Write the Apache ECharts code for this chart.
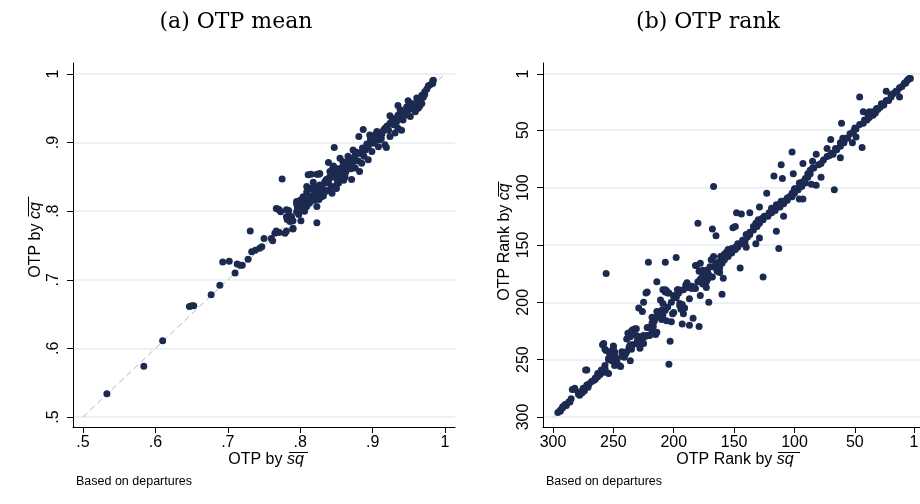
<!DOCTYPE html>
<html>
<head>
<meta charset="utf-8">
<script src="https://cdn.jsdelivr.net/npm/echarts@6/dist/echarts.min.js"></script>
<style>
html, body { margin: 0; padding: 0; background: #fff; }
#chart { width: 920px; height: 504px; }
</style>
</head>
<body>
<div id="chart"></div>
<script>
// (a) OTP mean: [OTP by sq, OTP by cq]
var meanPoints = [
  [0.533,0.534],[0.584,0.574],[0.610,0.611],[0.647,0.661],[0.650,0.662],[0.653,0.662],[0.677,0.678],[0.689,0.692],
  [0.693,0.726],[0.702,0.727],[0.710,0.710],[0.713,0.723],[0.717,0.721],[0.720,0.721],[0.728,0.730],[0.731,0.771],
  [0.733,0.741],[0.738,0.743],[0.744,0.746],[0.747,0.748],[0.750,0.760],[0.760,0.760],[0.762,0.757],[0.765,0.768],
  [0.767,0.771],[0.771,0.769],[0.767,0.804],[0.769,0.803],[0.773,0.799],[0.775,0.847],[0.781,0.771],[0.790,0.774],
  [0.779,0.768],[0.782,0.788],[0.784,0.801],[0.785,0.794],[0.786,0.785],[0.788,0.792],[0.790,0.786],[0.790,0.775],
  [0.781,0.792],[0.771,0.802],[0.781,0.802],[0.795,0.799],[0.795,0.811],[0.795,0.814],[0.800,0.816],[0.800,0.804],
  [0.801,0.786],[0.799,0.802],[0.802,0.807],[0.804,0.814],[0.804,0.819],[0.804,0.821],[0.807,0.814],[0.809,0.828],
  [0.809,0.836],[0.809,0.807],[0.811,0.853],[0.813,0.821],[0.814,0.833],[0.815,0.854],[0.816,0.819],[0.816,0.833],
  [0.818,0.842],[0.818,0.834],[0.820,0.836],[0.823,0.826],[0.823,0.831],[0.823,0.854],[0.823,0.807],[0.823,0.783],
  [0.825,0.826],[0.826,0.854],[0.827,0.824],[0.827,0.838],[0.827,0.855],[0.829,0.821],[0.832,0.831],[0.834,0.841],
  [0.834,0.843],[0.836,0.829],[0.839,0.845],[0.839,0.848],[0.839,0.841],[0.839,0.871],[0.843,0.836],[0.845,0.863],
  [0.846,0.850],[0.846,0.866],[0.847,0.893],[0.850,0.838],[0.850,0.833],[0.853,0.853],[0.853,0.841],[0.855,0.855],
  [0.855,0.877],[0.857,0.848],[0.859,0.872],[0.860,0.845],[0.860,0.858],[0.862,0.850],[0.864,0.867],[0.866,0.865],
  [0.866,0.880],[0.869,0.872],[0.871,0.877],[0.871,0.846],[0.873,0.872],[0.873,0.889],[0.876,0.882],[0.876,0.863],
  [0.881,0.909],[0.882,0.858],[0.883,0.884],[0.885,0.870],[0.887,0.919],[0.890,0.889],[0.894,0.894],[0.894,0.875],
  [0.896,0.911],[0.899,0.901],[0.899,0.887],[0.901,0.899],[0.906,0.909],[0.906,0.916],[0.908,0.894],[0.910,0.904],
  [0.913,0.913],[0.915,0.918],[0.917,0.921],[0.917,0.897],[0.919,0.893],[0.924,0.928],[0.924,0.909],[0.924,0.939],
  [0.931,0.935],[0.931,0.914],[0.935,0.940],[0.935,0.954],[0.935,0.921],[0.938,0.948],[0.940,0.918],[0.942,0.945],
  [0.942,0.933],[0.947,0.952],[0.949,0.961],[0.952,0.938],[0.954,0.957],[0.959,0.945],[0.959,0.955],[0.961,0.965],
  [0.963,0.950],[0.965,0.953],[0.968,0.969],[0.968,0.957],[0.972,0.974],[0.972,0.970],[0.977,0.983],[0.979,0.984],
  [0.983,0.986],[0.983,0.990],[0.984,0.991],
  [0.812,0.818],[0.818,0.824],[0.830,0.836],[0.836,0.846],[0.842,0.852],[0.848,0.856],[0.852,0.862],[0.858,0.864],
  [0.862,0.870],[0.868,0.866],[0.875,0.878],[0.878,0.886],[0.880,0.873],[0.886,0.892],[0.888,0.880],[0.892,0.898],
  [0.897,0.905],[0.903,0.902],[0.904,0.912],[0.909,0.914],[0.912,0.906],[0.920,0.924],[0.922,0.918],[0.927,0.932],
  [0.929,0.926],[0.933,0.930],[0.937,0.935],[0.944,0.940],[0.946,0.946],[0.950,0.948],[0.956,0.952],[0.962,0.960],
  [0.966,0.962],[0.970,0.966],[0.975,0.978],[0.796,0.806],[0.798,0.795],[0.806,0.800],[0.813,0.812],[0.819,0.816],
  [0.826,0.817],[0.832,0.822],[0.838,0.830],[0.844,0.826],[0.841,0.858],[0.851,0.846],[0.856,0.860],[0.863,0.857],
  [0.867,0.876],[0.870,0.862]
];

// (b) OTP rank: [rank by sq, rank by cq]
var rankPoints = [
  [46,21],[24,16],[13,21],[43,34],[38,34],[61,44],[60,57],[49,56],[44,65],[52,61],[70,58],[73,66],[62,74],[102,69],
  [82,71],[85,77],[93,79],[111,80],[117,90],[110,92],[101,88],[78,91],[86,97],[82,98],[67,102],[167,99],[93,110],
  [96,110],[123,105],[109,125],[115,138],[113,153],[126,178],[129,144],[129,117],[137,122],[148,122],[144,123],
  [151,135],[149,134],[180,131],[168,136],[165,142],[140,152],[141,149],[132,149],[145,170],[159,179],[160,193],
  [171,200],[169,163],[162,174],[165,170],[168,178],[176,172],[178,166],[182,168],[198,161],[207,165],[221,165],
  [256,175],[214,182],[223,192],[225,200],[229,205],[218,213],[217,221],[221,222],[215,228],[228,230],[234,224],
  [232,223],[236,230],[239,232],[230,233],[225,236],[236,237],[228,240],[259,237],[250,238],[256,242],[254,249],
  [243,243],[245,255],[242,246],[241,248],[236,251],[253,246],[273,259],[282,275],[279,280],[277,278],[274,277],
  [263,262],[260,261],[257,258],[254,262],[209,189],[207,191],[205,192],[211,198],[209,201],[211,210],[210,215],
  [206,216],[202,217],[203,234],[204,254],[201,210],[200,195],[198,196],[196,189],[195,203],[194,206],[192,210],
  [193,219],[187,220],[184,214],[187,197],[190,185],[187,187],[184,187],[179,221],[176,184],[173,187],[172,180],
  [170,178],[222,191],[226,208],[206,190],[204,192],[197,189],[199,195],[200,209],[195,201],[193,202],[191,205],
  [189,184],[185,186],[182,188],[181,168],[179,173],[173,172],[171,178],[176,182],[164,173],[162,170],[167,160],
  [161,160],[156,157],[209,211],[214,208],[217,218],[222,222],[235,225],[238,227],[231,229],[228,231],[225,229],
  [221,229],[218,226],[214,226],[240,245],[243,247],[249,246],[250,239],[253,243],[258,236],[257,241],[253,250],
  [249,255],[235,241],[231,223],
  [294,295],[292,292],[289,290],[286,287],[282,276],[278,281],[276,279],[275,276],[272,259],[271,274],[268,269],
  [265,266],[260,259],[256,261],[257,255],[254,250],[251,248],[249,243],[247,250],[244,256],[237,239],[234,237],
  [230,236],[207,189],[200,194],[189,183],[177,179],[174,178],[171,176],[173,182],[178,194],
  [163,169],[160,166],[158,163],[155,160],[152,157],[149,154],[147,152],[144,149],[141,146],[139,143],[137,141],
  [134,137],[131,134],[129,131],[126,128],[122,125],[119,122],[116,120],[112,117],[109,114],[106,111],[102,108],
  [100,105],[97,102],[94,99],[91,96],[89,91],
  [119,118],[115,115],[111,112],[106,109],[102,105],[100,101],[95,96],[91,92],[87,88],[84,83],[80,80],[76,76],
  [73,73],[69,70],[66,66],[62,61],[58,57],[54,53],[50,48],[46,45],[42,41],[39,37],[35,34],[32,31],[28,27],[24,24],
  [20,19],[16,16],[13,13],[8,9],[6,6],[4,5],
  [296,296],[294,294],[292,291],[290,289],[287,287],[285,284],[284,276],[275,275],[272,272],[270,271],[266,268],
  [265,267],[263,265],[261,263],[259,261],[257,259],[251,251],[248,249],[242,245],[239,243],[236,239],[231,236],
  [228,234],[226,232],[224,230],[222,229],[220,229],[218,218],[216,216],[214,213],[213,210],[210,207],[207,207],
  [205,204],[202,200],[198,195],[196,192],[192,189],[189,187],[185,188],[183,187],[180,182],[178,180],[176,176],
  [174,173],[172,172],[170,169],[167,169],[165,166],[163,165],[161,160],[158,158],[156,156],
  [155,154],[152,153],[149,152],[147,149],[143,146],[140,141],[137,139],[134,134],[132,131],[130,128],[127,127],
  [125,125],[121,122],[114,117],[112,114],[107,111],[104,108],[101,104],[99,101],[96,96],[93,95],[89,88],[87,85],
  [85,83],[78,79],[71,72],[68,71],[65,67],[62,64],[59,61],[56,57],[51,51],[49,49],[43,44],[40,41],[38,39],[35,37],
  [33,35],[31,32],[29,30],[26,28],[22,24],[20,21],[18,18],[15,16],[11,12],[9,9],[7,7],[5,5]
];

var meanTicks = [0.5, 0.6, 0.7, 0.8, 0.9, 1];
var meanTickLabels = ['.5', '.6', '.7', '.8', '.9', '1'];
var rankTicks = [1, 50, 100, 150, 200, 250, 300];
var meanDiag = [[0.5, 0.5], [1, 1]];
var rankDiag = [[300, 300], [1, 1]];
var panelTitles = ['(a) OTP mean', '(b) OTP rank'];
var noteText = 'Based on departures';

var dotColor = '#1c2a51';
var gridColor = '#e4edf0';
var sans = 'Liberation Sans, Arial, sans-serif';

function meanLabel(v) {
  var i = meanTicks.indexOf(Math.round(v * 10) / 10);
  return i >= 0 ? meanTickLabels[i] : '';
}

function axis(grid, min, max, ticks, fmt, isY, inverse) {
  return {
    type: 'value',
    gridIndex: grid,
    min: min,
    max: max,
    inverse: !!inverse,
    axisLine: { show: true, onZero: false, lineStyle: { color: '#000', width: 1 } },
    axisTick: { show: true, customValues: ticks, length: 6, lineStyle: { color: '#000', width: 1 } },
    axisLabel: {
      customValues: ticks, formatter: fmt, color: '#000', fontSize: 16, fontFamily: sans,
      margin: isY ? 11 : 8, rotate: isY ? 90 : 0, hideOverlap: false
    },
    splitLine: { show: isY, lineStyle: { color: gridColor, width: 1.5 } }
  };
}

function txt(x, y, text, size, rot, family) {
  return {
    type: 'text', x: x, y: y, rotation: rot || 0, silent: true,
    style: {
      text: text, fontSize: size, fontFamily: family || sans, fill: '#000',
      align: 'center', verticalAlign: 'middle',
      rich: { i: { fontStyle: 'italic', fontSize: size, fontFamily: family || sans, fill: '#000' } }
    }
  };
}

function bar(x1, y1, x2, y2) {
  return { type: 'line', silent: true, shape: { x1: x1, y1: y1, x2: x2, y2: y2 }, style: { stroke: '#000', lineWidth: 1 } };
}

var chart = echarts.init(document.getElementById('chart'), null, { renderer: 'canvas' });

chart.setOption({
  animation: false,
  backgroundColor: '#fff',
  grid: [
    { left: 73, top: 63, width: 382, height: 364, outerBoundsMode: 'none', containLabel: false },
    { left: 543, top: 63, width: 377, height: 364, outerBoundsMode: 'none', containLabel: false }
  ],
  xAxis: [
    axis(0, 0.4862, 1.0138, meanTicks, meanLabel, false, false),
    axis(1, -3.97, 308.3, rankTicks, null, false, true)
  ],
  yAxis: [
    axis(0, 0.4854, 1.016, meanTicks, meanLabel, true, false),
    axis(1, -8.59, 308.7, rankTicks, null, true, true)
  ],
  series: [
    {
      type: 'line', xAxisIndex: 0, yAxisIndex: 0, data: meanDiag, symbol: 'none', silent: true, z: 1,
      lineStyle: { color: '#b5b5b5', width: 1, type: [6, 4] }
    },
    {
      type: 'scatter', xAxisIndex: 0, yAxisIndex: 0, data: meanPoints, symbolSize: 7, z: 2,
      itemStyle: { color: dotColor, opacity: 1 }
    },
    {
      type: 'line', xAxisIndex: 1, yAxisIndex: 1, data: rankDiag, symbol: 'none', silent: true, z: 1,
      lineStyle: { color: '#c8c8c8', width: 1 }
    },
    {
      type: 'scatter', xAxisIndex: 1, yAxisIndex: 1, data: rankPoints, symbolSize: 7, z: 2,
      itemStyle: { color: dotColor, opacity: 1 }
    }
  ],
  graphic: [
    txt(236, 22, panelTitles[0], 22, 0, 'DejaVu Serif'),
    txt(708, 22, panelTitles[1], 22, 0, 'DejaVu Serif'),
    txt(266, 460, 'OTP by {i|sq}', 16),
    bar(289, 452.5, 308, 452.5),
    txt(36, 240, 'OTP by {i|cq}', 16, Math.PI / 2),
    bar(28.5, 196.5, 28.5, 216.5),
    txt(735, 460, 'OTP Rank by {i|sq}', 16),
    bar(778, 452.5, 800, 452.5),
    txt(505, 242, 'OTP Rank by {i|cq}', 16, Math.PI / 2),
    bar(498.5, 181.5, 498.5, 196.5),
    { type: 'text', x: 76, y: 482, silent: true,
      style: { text: noteText, fontSize: 12.5, fontFamily: sans, fill: '#000', align: 'left', verticalAlign: 'middle' } },
    { type: 'text', x: 546, y: 482, silent: true,
      style: { text: noteText, fontSize: 12.5, fontFamily: sans, fill: '#000', align: 'left', verticalAlign: 'middle' } }
  ]
});
</script>
</body>
</html>
